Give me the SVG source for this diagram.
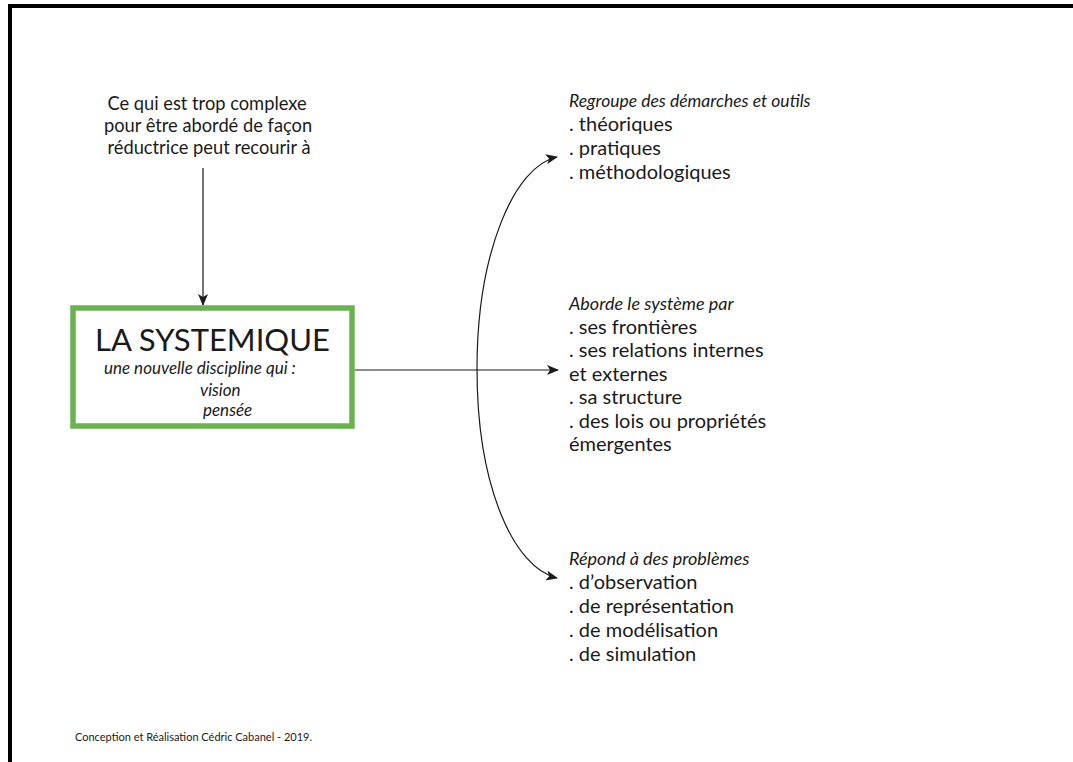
<svg xmlns="http://www.w3.org/2000/svg" width="1073" height="762" viewBox="0 0 1073 762">
<defs>
<marker id="arr" viewBox="0 0 12 10" refX="11" refY="5" markerWidth="12" markerHeight="10" markerUnits="userSpaceOnUse" orient="auto-start-reverse">
<path d="M0,0 L12,5 L0,10 L3,5 Z" fill="#1a1a1a"/>
</marker>
<style>
.t{font-family:Lato,"Open Sans","Liberation Sans",sans-serif;font-size:20px;fill:#1a1a1a}
.i{font-style:italic;font-size:18px}
.s{font-size:18.3px}
.b{font-size:17px;font-style:italic}
.c{stroke:#1a1a1a;stroke-width:1.2;fill:none}
</style>
</defs>
<rect width="1073" height="762" fill="#ffffff"/>
<path d="M10,762 V6 H1073" fill="none" stroke="#000000" stroke-width="4"/>
<g id="connectors">
<path class="c" d="M203,168 V305" marker-end="url(#arr)"/>
<path class="c" d="M355,370 H558" marker-end="url(#arr)"/>
<path class="c" d="M557,157 C514,166 477,253 477,369 C477,487 514,568 557,578" marker-start="url(#arr)" marker-end="url(#arr)"/>
</g>
<g id="node-intro">
<text class="t s" text-anchor="middle" x="207" y="110">Ce qui est trop complexe</text>
<text class="t s" text-anchor="middle" x="208" y="132">pour être abordé de façon</text>
<text class="t s" text-anchor="middle" x="209" y="154">réductrice peut recourir à</text>
</g>
<g id="node-systemique">
<rect x="73" y="308" width="279" height="118" fill="#ffffff" stroke="#6ab150" stroke-width="5.5"/>
<text class="t" x="95" y="351" style="font-size:31px">LA SYSTEMIQUE</text>
<text class="t b" x="104" y="374">une nouvelle discipline qui :</text>
<text class="t b" x="200" y="396">vision</text>
<text class="t b" x="203" y="416">pensée</text>
</g>
<g id="node-regroupe">
<text class="t i" x="569" y="107" style="font-size:17.5px">Regroupe des démarches et outils</text>
<text class="t" x="569" y="131">. théoriques</text>
<text class="t" x="569" y="155">. pratiques</text>
<text class="t" x="569" y="179">. méthodologiques</text>
</g>
<g id="node-aborde">
<text class="t i" x="569" y="310">Aborde le système par</text>
<text class="t" x="569" y="333.5">. ses frontières</text>
<text class="t" x="569" y="357">. ses relations internes</text>
<text class="t" x="569" y="380.5">et externes</text>
<text class="t" x="569" y="404">. sa structure</text>
<text class="t" x="569" y="427.5">. des lois ou propriétés</text>
<text class="t" x="569" y="451">émergentes</text>
</g>
<g id="node-repond">
<text class="t i" x="569" y="565">Répond à des problèmes</text>
<text class="t" x="569" y="589">. d’observation</text>
<text class="t" x="569" y="613">. de représentation</text>
<text class="t" x="569" y="637">. de modélisation</text>
<text class="t" x="569" y="661">. de simulation</text>
</g>
<text class="t" x="75" y="741" style="font-size:11px">Conception et Réalisation Cédric Cabanel - 2019.</text>
</svg>
